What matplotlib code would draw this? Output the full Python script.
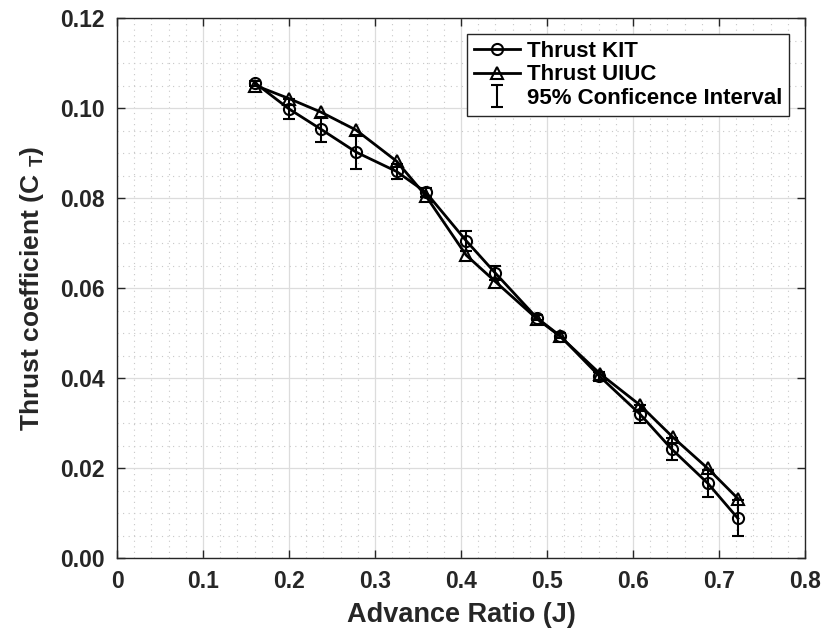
import matplotlib
matplotlib.use("Agg")
import matplotlib.pyplot as plt
from matplotlib.ticker import MultipleLocator

plt.rcParams['font.family'] = ['Liberation Sans', 'DejaVu Sans']
plt.rcParams['font.weight'] = 'bold'
plt.rcParams['mathtext.fontset'] = 'custom'
plt.rcParams['mathtext.rm'] = 'Liberation Sans:bold'
plt.rcParams['mathtext.it'] = 'Liberation Sans:bold'
plt.rcParams['mathtext.bf'] = 'Liberation Sans:bold'

# Data
J_kit = [0.161, 0.200, 0.237, 0.278, 0.325, 0.359, 0.406, 0.440, 0.488, 0.515, 0.561, 0.608, 0.645, 0.687, 0.722]
ct_kit = [0.1055, 0.0998, 0.0953, 0.0902, 0.0859, 0.0813, 0.0705, 0.0633, 0.0534, 0.0494, 0.0404, 0.0320, 0.0242, 0.0166, 0.0088]
ci_kit = [0.0005, 0.0023, 0.0028, 0.0037, 0.0017, 0.0010, 0.0022, 0.0015, 0.0005, 0.0005, 0.0010, 0.0020, 0.0025, 0.0030, 0.0040]
J_uiuc = [0.161, 0.200, 0.237, 0.278, 0.325, 0.359, 0.406, 0.440, 0.488, 0.515, 0.562, 0.608, 0.646, 0.687, 0.722]
ct_uiuc = [0.1050, 0.1021, 0.0991, 0.0951, 0.0882, 0.0805, 0.0673, 0.0614, 0.0532, 0.0493, 0.0409, 0.0340, 0.0269, 0.0199, 0.0132]
x_ticks = [0, 0.1, 0.2, 0.3, 0.4, 0.5, 0.6, 0.7, 0.8]
x_ticklabels = ['0', '0.1', '0.2', '0.3', '0.4', '0.5', '0.6', '0.7', '0.8']
y_ticks = [0, 0.02, 0.04, 0.06, 0.08, 0.10, 0.12]
y_ticklabels = ['0.00', '0.02', '0.04', '0.06', '0.08', '0.10', '0.12']

fig = plt.figure(figsize=(8.27, 6.34), dpi=100)
ax = fig.add_axes([117/827, 1 - 558/634, 688/827, 540/634])

lk, = ax.plot(J_kit, ct_kit, '-', color='black', lw=2, marker='o', ms=8,
              mfc='none', mec='black', mew=1.5, label='Thrust KIT', zorder=3)
lu, = ax.plot(J_uiuc, ct_uiuc, '-', color='black', lw=2, marker='^', ms=8.5,
              mfc='none', mec='black', mew=1.5, label='Thrust UIUC', zorder=3)
eb = ax.errorbar(J_kit, ct_kit, yerr=ci_kit, fmt='none', ecolor='black',
                 elinewidth=1.5, capsize=4, capthick=1.5,
                 label='95% Conficence Interval', zorder=4)

ax.set_xlim(0, 0.8)
ax.set_ylim(0, 0.12)
ax.xaxis.set_minor_locator(MultipleLocator(0.02))
ax.yaxis.set_minor_locator(MultipleLocator(0.005))
ax.set_xticks(x_ticks)
ax.set_xticklabels(x_ticklabels)
ax.set_yticks(y_ticks)
ax.set_yticklabels(y_ticklabels)

ax.grid(which='major', color='#dcdcdc', linestyle='-', linewidth=0.9, zorder=0)
ax.grid(which='minor', color='#c8c8c8', linestyle=(0, (1, 4)), linewidth=0.8, zorder=0)
ax.set_axisbelow(True)

ax.tick_params(which='major', direction='in', length=6, width=1, top=True, right=True,
               labelsize=16.5, colors='#262626', pad=9)
ax.tick_params(which='minor', length=0, top=True, right=True)
for lab in ax.get_xticklabels() + ax.get_yticklabels():
    lab.set_fontweight('bold')
for s in ax.spines.values():
    s.set_color('#262626')
    s.set_linewidth(1.0)

ax.set_xlabel('Advance Ratio (J)', fontsize=19.5, fontweight='bold', color='#262626', labelpad=6)
ax.set_ylabel(r'Thrust coefficient (C $_\mathrm{T}$)', fontsize=19, fontweight='bold',
              color='#262626', labelpad=10)

leg = ax.legend(handles=[lk, lu, eb], loc='upper right',
                bbox_to_anchor=((789 - 117) / 688, (558 - 34) / 540), borderaxespad=0,
                fancybox=False, framealpha=1, edgecolor='#262626',
                handlelength=2.1, handletextpad=0.3, borderpad=0.3, labelspacing=0.12,
                prop={'weight': 'bold', 'size': 16})
leg.get_frame().set_linewidth(1.0)

fig.savefig('out.png', dpi=100)
